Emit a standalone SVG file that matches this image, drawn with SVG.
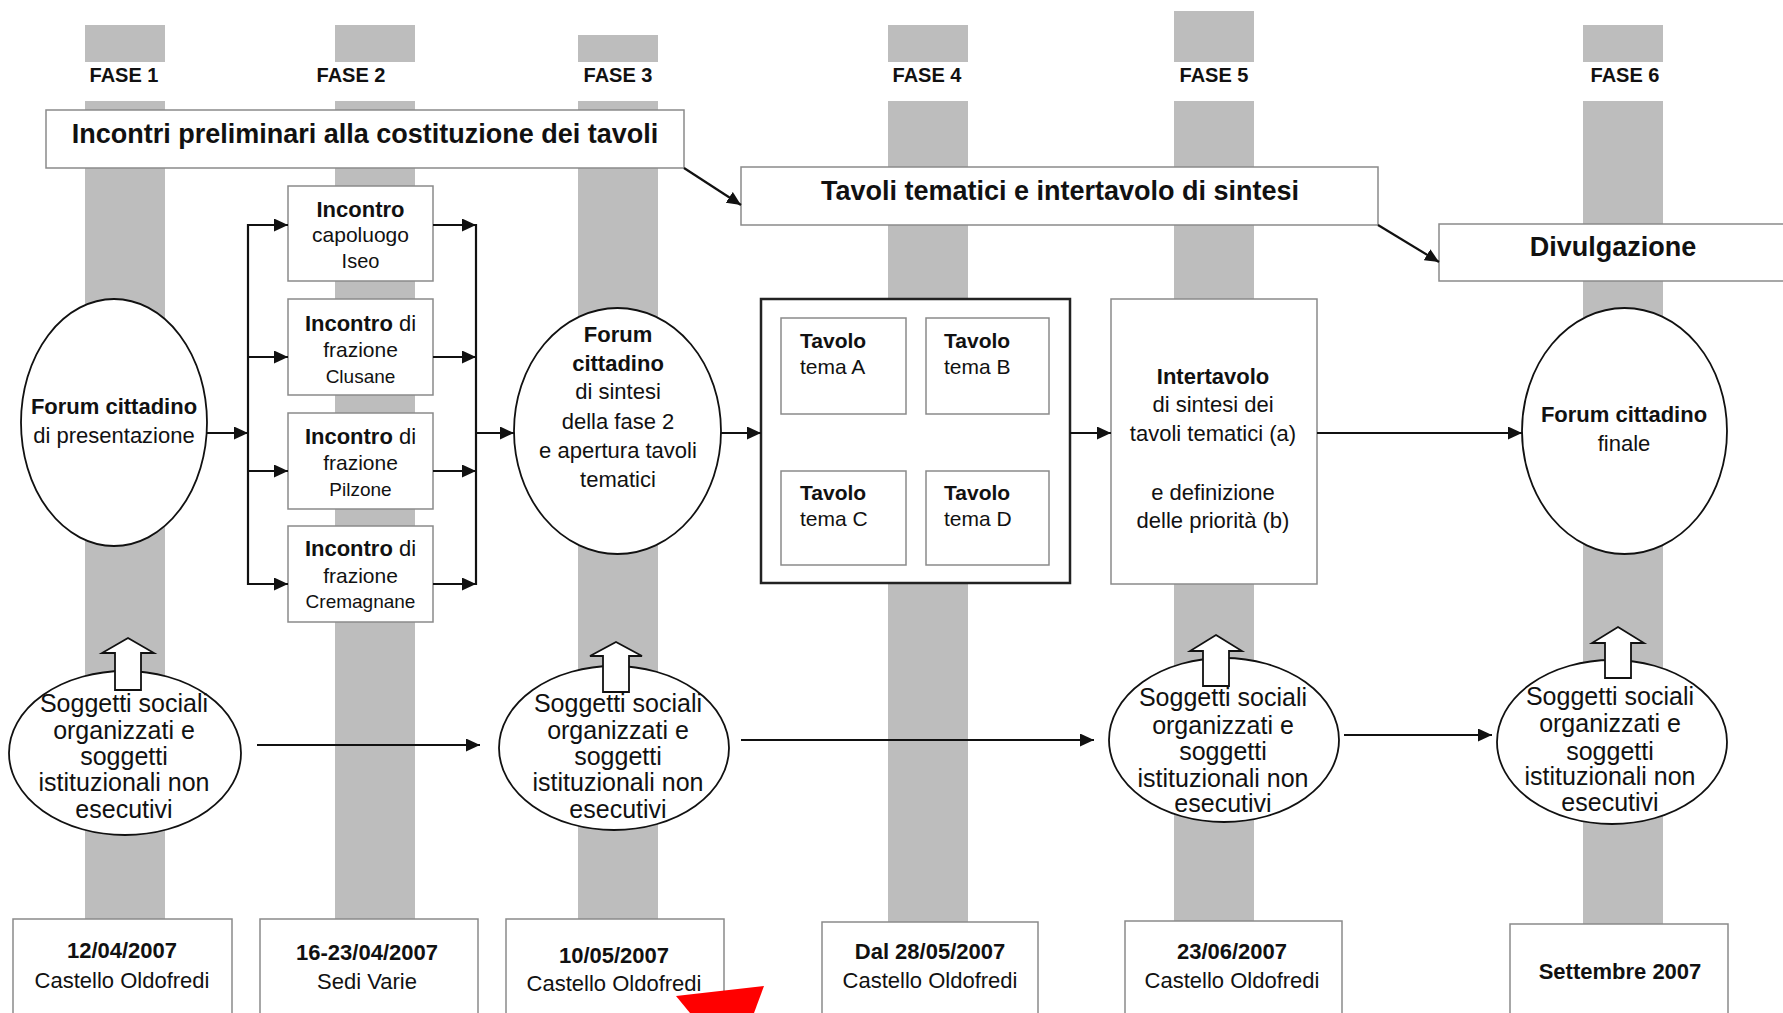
<svg xmlns="http://www.w3.org/2000/svg" width="1783" height="1013" viewBox="0 0 1783 1013">
<style>
text{font-family:"Liberation Sans",Arial,sans-serif;fill:#111}
.b{font-weight:bold}
.c{text-anchor:middle}
.bar{fill:#bdbdbd}
.box{fill:#fff;stroke:#8a8a8a;stroke-width:1.5}
.dark{fill:#fff;stroke:#222;stroke-width:2.5}
.ell{fill:#fff;stroke:#111;stroke-width:1.8}
.blk{fill:#fff;stroke:#111;stroke-width:1.8;stroke-linejoin:miter}
.ln{fill:none;stroke:#111;stroke-width:2.2}
.lna{fill:none;stroke:#111;stroke-width:2.2;marker-end:url(#ah)}
.f20{font-size:20px}.f27{font-size:27px}.f22{font-size:22px}.f21{font-size:21px}.f19{font-size:19px}.f25{font-size:25px}
</style>
<defs>
<marker id="ah" markerUnits="userSpaceOnUse" markerWidth="15" markerHeight="14" refX="14" refY="6.5" orient="auto">
<path d="M0,0 L14,6.5 L0,13 z" fill="#111"/>
</marker>
</defs>
<rect width="1783" height="1013" fill="#fff"/>
<g id="bars">
<rect class="bar" x="85" y="25" width="80" height="37"/><rect class="bar" x="85" y="101" width="80" height="818"/>
<rect class="bar" x="335" y="25" width="80" height="37"/><rect class="bar" x="335" y="101" width="80" height="818"/>
<rect class="bar" x="578" y="35" width="80" height="27"/><rect class="bar" x="578" y="101" width="80" height="818"/>
<rect class="bar" x="888" y="25" width="80" height="37"/><rect class="bar" x="888" y="101" width="80" height="821"/>
<rect class="bar" x="1174" y="11" width="80" height="51"/><rect class="bar" x="1174" y="101" width="80" height="820"/>
<rect class="bar" x="1583" y="25" width="80" height="37"/><rect class="bar" x="1583" y="101" width="80" height="823"/>
<text class="b c f20" x="124" y="82">FASE 1</text>
<text class="b c f20" x="351" y="82">FASE 2</text>
<text class="b c f20" x="618" y="82">FASE 3</text>
<text class="b c f20" x="927" y="82">FASE 4</text>
<text class="b c f20" x="1214" y="82">FASE 5</text>
<text class="b c f20" x="1625" y="82">FASE 6</text>
</g>
<g id="title-incontri">
<rect class="box" x="46" y="110" width="638" height="58"/>
<text class="b c f27" x="365" y="143">Incontri preliminari alla costituzione dei tavoli</text>
</g>
<g id="title-tavoli">
<rect class="box" x="741" y="167" width="637" height="58"/>
<text class="b c f27" x="1060" y="200">Tavoli tematici e intertavolo di sintesi</text>
</g>
<g id="title-divulgazione">
<rect class="box" x="1439" y="224" width="360" height="57"/>
<text class="b c f27" x="1613" y="256">Divulgazione</text>
</g>
<g id="forum-presentazione">
<ellipse class="ell" cx="114" cy="422.5" rx="93" ry="123.5"/>
<text class="b c f22" x="114" y="414">Forum cittadino</text>
<text class="c f22" x="114" y="443">di presentazione</text>
</g>
<g id="incontro-iseo">
<rect class="box" x="288" y="186" width="145" height="95"/>
<text class="b c f22" x="360.5" y="217">Incontro</text>
<text class="c f21" x="360.5" y="242">capoluogo</text>
<text class="c f20" x="360.5" y="268">Iseo</text>
</g>
<g id="incontro-clusane">
<rect class="box" x="288" y="299" width="145" height="96"/>
<text class="c f22" x="360.5" y="331"><tspan class="b">Incontro</tspan> di</text>
<text class="c f21" x="360.5" y="357">frazione</text>
<text class="c f19" x="360.5" y="383">Clusane</text>
</g>
<g id="incontro-pilzone">
<rect class="box" x="288" y="413" width="145" height="96"/>
<text class="c f22" x="360.5" y="444"><tspan class="b">Incontro</tspan> di</text>
<text class="c f21" x="360.5" y="470">frazione</text>
<text class="c f19" x="360.5" y="496">Pilzone</text>
</g>
<g id="incontro-cremagnane">
<rect class="box" x="288" y="526" width="145" height="96"/>
<text class="c f22" x="360.5" y="556"><tspan class="b">Incontro</tspan> di</text>
<text class="c f21" x="360.5" y="583">frazione</text>
<text class="c f19" x="360.5" y="608">Cremagnane</text>
</g>
<g id="forum-sintesi">
<ellipse class="ell" cx="617.5" cy="431" rx="103.5" ry="123"/>
<text class="b c f22" x="618" y="342">Forum</text>
<text class="b c f22" x="618" y="371">cittadino</text>
<text class="c f22" x="618" y="399">di sintesi</text>
<text class="c f22" x="618" y="429">della fase 2</text>
<text class="c f22" x="618" y="458">e apertura tavoli</text>
<text class="c f22" x="618" y="487">tematici</text>
</g>
<g id="tavoli-tematici">
<rect class="dark" x="761" y="299" width="309" height="284"/>
<rect class="box" x="781" y="318" width="125" height="96"/>
<rect class="box" x="926" y="318" width="123" height="96"/>
<rect class="box" x="781" y="471" width="125" height="94"/>
<rect class="box" x="926" y="471" width="123" height="94"/>
<text class="b f21" x="800" y="348">Tavolo</text>
<text class="f21" x="800" y="374">tema A</text>
<text class="b f21" x="944" y="348">Tavolo</text>
<text class="f21" x="944" y="374">tema B</text>
<text class="b f21" x="800" y="500">Tavolo</text>
<text class="f21" x="800" y="526">tema C</text>
<text class="b f21" x="944" y="500">Tavolo</text>
<text class="f21" x="944" y="526">tema D</text>
</g>
<g id="intertavolo">
<rect class="box" x="1111" y="299" width="206" height="285"/>
<text class="b c f22" x="1213" y="384">Intertavolo</text>
<text class="c f22" x="1213" y="412">di sintesi dei</text>
<text class="c f22" x="1213" y="441">tavoli tematici (a)</text>
<text class="c f22" x="1213" y="500">e definizione</text>
<text class="c f22" x="1213" y="528">delle priorità (b)</text>
</g>
<g id="forum-finale">
<ellipse class="ell" cx="1624.5" cy="431" rx="102.5" ry="123"/>
<text class="b c f22" x="1624" y="422">Forum cittadino</text>
<text class="c f22" x="1624" y="451">finale</text>
</g>
<g id="soggetti-1">
<ellipse class="ell" cx="125" cy="753" rx="116" ry="82"/>
<polygon class="blk" points="128,638 154,653 141,653 141,690 115,690 115,653 102,653"/>
<text class="c f25" x="124" y="712">Soggetti sociali</text>
<text class="c f25" x="124" y="739">organizzati e</text>
<text class="c f25" x="124" y="765">soggetti</text>
<text class="c f25" x="124" y="791">istituzionali non</text>
<text class="c f25" x="124" y="818">esecutivi</text>
</g>
<g id="soggetti-3">
<ellipse class="ell" cx="614" cy="748" rx="115" ry="82"/>
<polygon class="blk" points="616,642 642,656 629,656 629,692 603,692 603,656 590,656"/>
<text class="c f25" x="618" y="712">Soggetti sociali</text>
<text class="c f25" x="618" y="739">organizzati e</text>
<text class="c f25" x="618" y="765">soggetti</text>
<text class="c f25" x="618" y="791">istituzionali non</text>
<text class="c f25" x="618" y="818">esecutivi</text>
</g>
<g id="soggetti-5">
<ellipse class="ell" cx="1224" cy="740" rx="115" ry="82"/>
<polygon class="blk" points="1216,635 1242,651 1229,651 1229,686 1203,686 1203,651 1190,651"/>
<text class="c f25" x="1223" y="706">Soggetti sociali</text>
<text class="c f25" x="1223" y="734">organizzati e</text>
<text class="c f25" x="1223" y="760">soggetti</text>
<text class="c f25" x="1223" y="787">istituzionali non</text>
<text class="c f25" x="1223" y="812">esecutivi</text>
</g>
<g id="soggetti-6">
<ellipse class="ell" cx="1612" cy="742" rx="115" ry="82"/>
<polygon class="blk" points="1618,627 1644,643 1631,643 1631,678 1605,678 1605,643 1592,643"/>
<text class="c f25" x="1610" y="705">Soggetti sociali</text>
<text class="c f25" x="1610" y="732">organizzati e</text>
<text class="c f25" x="1610" y="760">soggetti</text>
<text class="c f25" x="1610" y="785">istituzionali non</text>
<text class="c f25" x="1610" y="811">esecutivi</text>
</g>
<g id="data-1">
<rect class="box" x="13" y="919" width="219" height="110"/>
<text class="b c f22" x="122" y="958">12/04/2007</text>
<text class="c f22" x="122" y="988">Castello Oldofredi</text>
</g>
<g id="data-2">
<rect class="box" x="260" y="919" width="218" height="110"/>
<text class="b c f22" x="367" y="960">16-23/04/2007</text>
<text class="c f22" x="367" y="989">Sedi Varie</text>
</g>
<g id="data-3">
<rect class="box" x="506" y="919" width="218" height="110"/>
<text class="b c f22" x="614" y="963">10/05/2007</text>
<text class="c f22" x="614" y="991">Castello Oldofredi</text>
</g>
<g id="data-4">
<rect class="box" x="822" y="922" width="216" height="110"/>
<text class="b c f22" x="930" y="959">Dal 28/05/2007</text>
<text class="c f22" x="930" y="988">Castello Oldofredi</text>
</g>
<g id="data-5">
<rect class="box" x="1125" y="921" width="217" height="110"/>
<text class="b c f22" x="1232" y="959">23/06/2007</text>
<text class="c f22" x="1232" y="988">Castello Oldofredi</text>
</g>
<g id="data-6">
<rect class="box" x="1510" y="924" width="218" height="110"/>
<text class="b c f22" x="1620" y="979">Settembre 2007</text>
</g>
<g id="connectors">
<line class="lna" x1="684" y1="168" x2="741" y2="205"/>
<line class="lna" x1="1378" y1="225" x2="1439" y2="262"/>
<line class="lna" x1="207" y1="433" x2="248" y2="433"/>
<line class="ln" x1="248" y1="224" x2="248" y2="585"/>
<line class="lna" x1="248" y1="225" x2="288" y2="225"/>
<line class="lna" x1="248" y1="357" x2="288" y2="357"/>
<line class="lna" x1="248" y1="471" x2="288" y2="471"/>
<line class="lna" x1="248" y1="584" x2="288" y2="584"/>
<line class="lna" x1="433" y1="225" x2="476" y2="225"/>
<line class="lna" x1="433" y1="357" x2="476" y2="357"/>
<line class="lna" x1="433" y1="471" x2="476" y2="471"/>
<line class="lna" x1="433" y1="584" x2="476" y2="584"/>
<line class="ln" x1="476" y1="224" x2="476" y2="585"/>
<line class="lna" x1="476" y1="433" x2="514" y2="433"/>
<line class="lna" x1="721" y1="433" x2="761" y2="433"/>
<line class="lna" x1="1070" y1="433" x2="1111" y2="433"/>
<line class="lna" x1="1317" y1="433" x2="1522" y2="433"/>
<line class="lna" x1="257" y1="745" x2="480" y2="745"/>
<line class="lna" x1="741" y1="740" x2="1094" y2="740"/>
<line class="lna" x1="1344" y1="735" x2="1492" y2="735"/>
</g>
<polygon points="676,996 764,986 754,1013 690,1013" fill="#ff0000"/>
</svg>
